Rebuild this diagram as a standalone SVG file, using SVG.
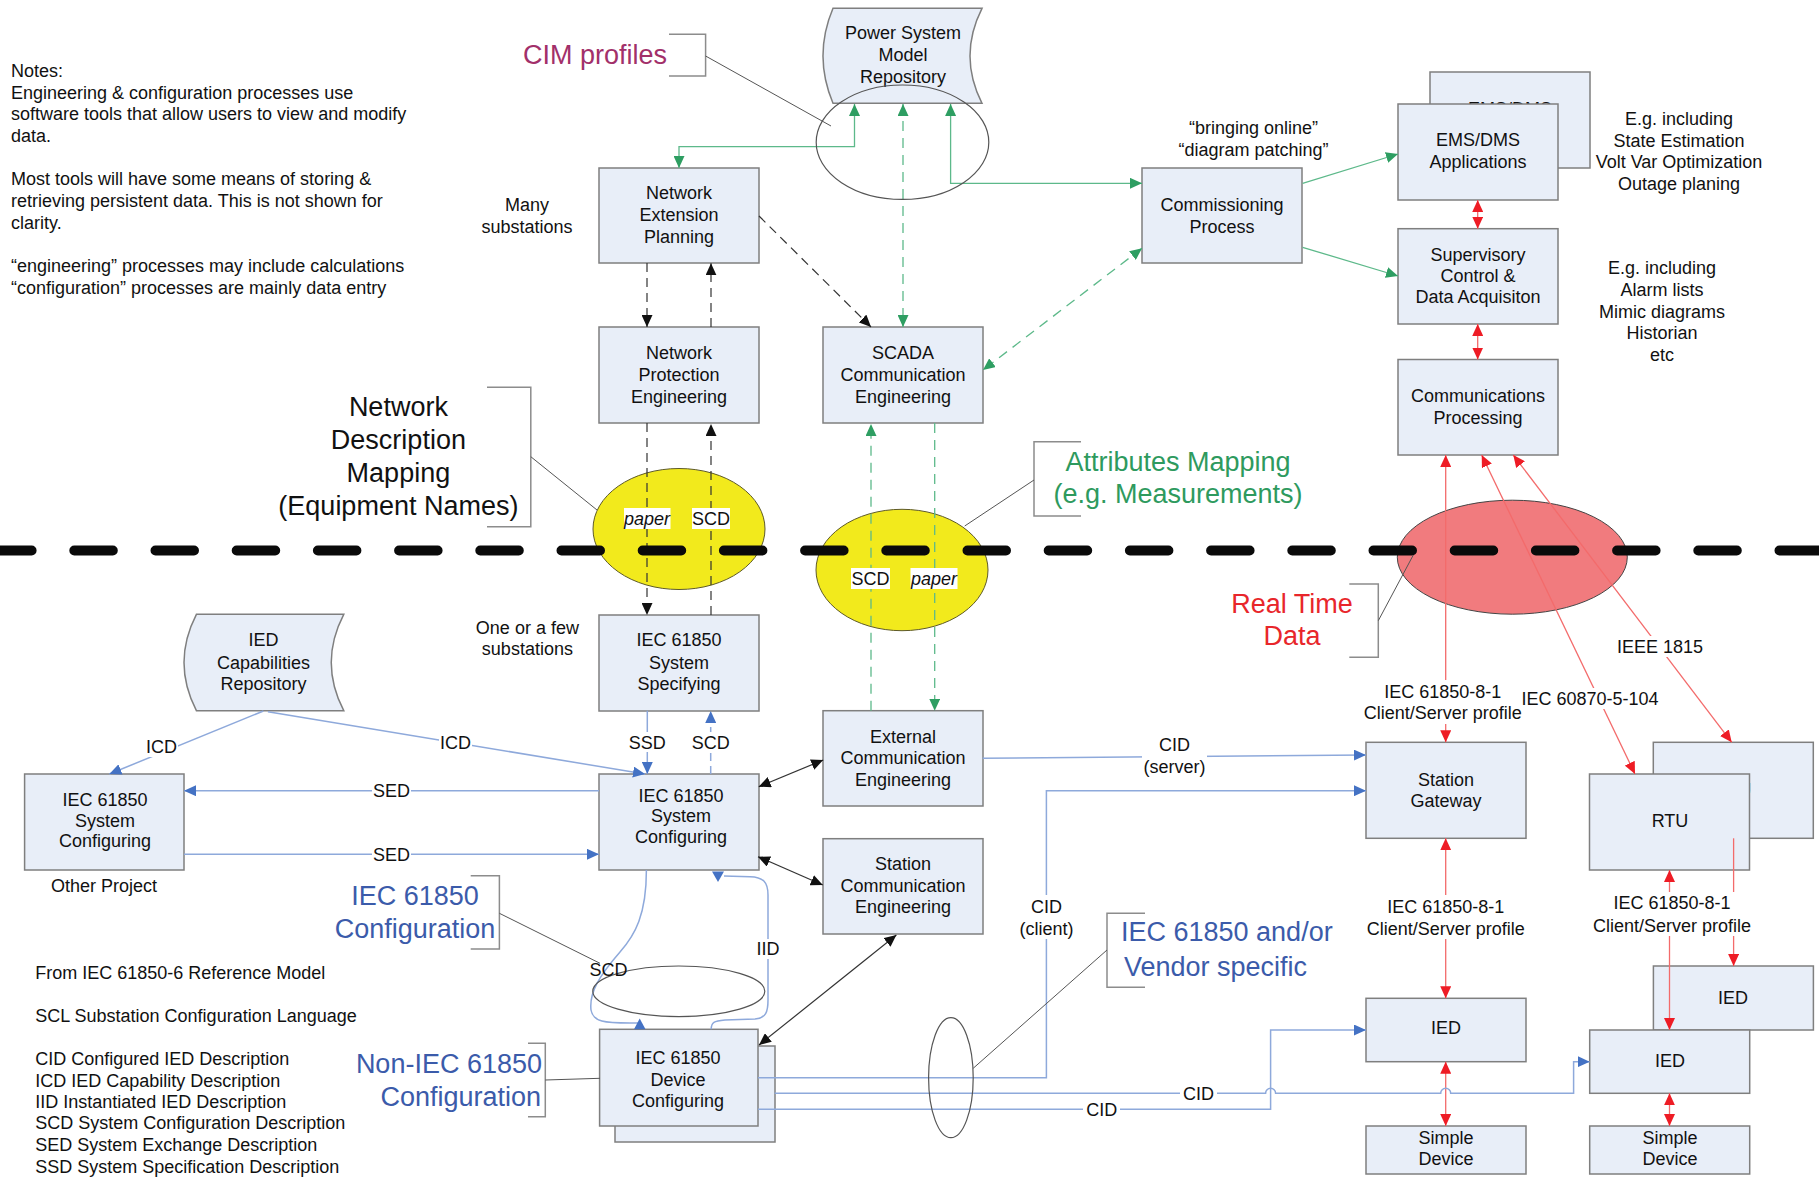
<svg xmlns="http://www.w3.org/2000/svg" width="1819" height="1182" viewBox="0 0 1819 1182">
<defs>
<style>
.t{font-family:"Liberation Sans",Arial,Helvetica,sans-serif;font-size:18px;fill:#111}
.m{text-anchor:middle}
.e{text-anchor:end}
.it{font-style:italic}
.big{font-size:27px}
.box{fill:#E8EEF8;stroke:#7F7F7F;stroke-width:1.5}
.bg{fill:#fff}
.k{fill:none;stroke:#333;stroke-width:1.2}
.kd{stroke-dasharray:9 6}
.g{fill:none;stroke:#5DB98A;stroke-width:1.3}
.gd{stroke-dasharray:10 7}
.r{fill:none;stroke:#F36B6B;stroke-width:1.3}
.b{fill:none;stroke:#8EA9DB;stroke-width:1.5}
.bd{stroke-dasharray:8 5}
.brk{fill:none;stroke:#8C8C8C;stroke-width:1.5}
.lead{fill:none;stroke:#555;stroke-width:1}
.ring{fill:none;stroke:#555;stroke-width:1.2}
</style>
<marker id="ak" viewBox="0 0 12 11" refX="12" refY="5.5" markerWidth="12" markerHeight="11" markerUnits="userSpaceOnUse" orient="auto-start-reverse"><path d="M0,0 L12,5.5 L0,11 Z" fill="#111"/></marker>
<marker id="ag" viewBox="0 0 12 11" refX="12" refY="5.5" markerWidth="12" markerHeight="11" markerUnits="userSpaceOnUse" orient="auto-start-reverse"><path d="M0,0 L12,5.5 L0,11 Z" fill="#2E9E62"/></marker>
<marker id="ar" viewBox="0 0 12 11" refX="12" refY="5.5" markerWidth="12" markerHeight="11" markerUnits="userSpaceOnUse" orient="auto-start-reverse"><path d="M0,0 L12,5.5 L0,11 Z" fill="#EE1C25"/></marker>
<marker id="ab" viewBox="0 0 12 11" refX="12" refY="5.5" markerWidth="12" markerHeight="11" markerUnits="userSpaceOnUse" orient="auto-start-reverse"><path d="M0,0 L12,5.5 L0,11 Z" fill="#4472C4"/></marker>
</defs>
<rect width="1819" height="1182" fill="#fff"/>

<!-- filled region ellipses -->
<g id="regions">
<ellipse id="yellow-1" cx="679" cy="529" rx="86" ry="60.5" fill="#F2EA1C" stroke="#5E5A28" stroke-width="1"/>
<ellipse id="yellow-2" cx="902" cy="570" rx="86" ry="60.7" fill="#F2EA1C" stroke="#5E5A28" stroke-width="1"/>
<ellipse id="realtime-ellipse" cx="1512.3" cy="557.2" rx="115" ry="57" fill="#F17B7E" stroke="#444" stroke-width="1"/>
</g>

<!-- nodes -->
<g id="power-system-model-repository">
<path class="box" d="M833,8.3 L982,8.3 Q958,55.8 982,103.3 L833,103.3 Q813,55.8 833,8.3 Z"/>
<text class="t m"><tspan x="903" y="39.3">Power System</tspan><tspan x="903" y="61">Model</tspan><tspan x="903" y="82.7">Repository</tspan></text>
</g>
<g id="network-extension-planning">
<rect class="box" x="599" y="168" width="160" height="95"/>
<text class="t m"><tspan x="679" y="199.3">Network</tspan><tspan x="679" y="221">Extension</tspan><tspan x="679" y="242.7">Planning</tspan></text>
</g>
<g id="network-protection-engineering">
<rect class="box" x="599" y="327" width="160" height="96"/>
<text class="t m"><tspan x="679" y="359.3">Network</tspan><tspan x="679" y="381">Protection</tspan><tspan x="679" y="402.7">Engineering</tspan></text>
</g>
<g id="scada-communication-engineering">
<rect class="box" x="823" y="327" width="160" height="96"/>
<text class="t m"><tspan x="903" y="359">SCADA</tspan><tspan x="903" y="381">Communication</tspan><tspan x="903" y="403">Engineering</tspan></text>
</g>
<g id="commissioning-process">
<rect class="box" x="1142" y="168" width="160" height="95"/>
<text class="t m"><tspan x="1222" y="211">Commissioning</tspan><tspan x="1222" y="232.7">Process</tspan></text>
</g>
<g id="ems-dms-applications">
<rect class="box" x="1430" y="72" width="160" height="96"/>
<text class="t m" x="1510" y="114.9">EMS/DMS</text>
<rect class="box" x="1398" y="104" width="160" height="96"/>
<text class="t m"><tspan x="1478" y="146">EMS/DMS</tspan><tspan x="1478" y="167.7">Applications</tspan></text>
</g>
<g id="supervisory-control">
<rect class="box" x="1398" y="228.7" width="160" height="95.3"/>
<text class="t m"><tspan x="1478" y="261">Supervisory</tspan><tspan x="1478" y="282">Control &amp;</tspan><tspan x="1478" y="303.3">Data Acquisiton</tspan></text>
</g>
<g id="communications-processing">
<rect class="box" x="1398" y="359.5" width="160" height="95.5"/>
<text class="t m"><tspan x="1478" y="402">Communications</tspan><tspan x="1478" y="423.7">Processing</tspan></text>
</g>
<g id="iec-system-specifying">
<rect class="box" x="599" y="615" width="160" height="96"/>
<text class="t m"><tspan x="679" y="646">IEC 61850</tspan><tspan x="679" y="668.7">System</tspan><tspan x="679" y="690">Specifying</tspan></text>
</g>
<g id="iec-system-configuring">
<rect class="box" x="599" y="774" width="160" height="96"/>
<text class="t m"><tspan x="681" y="802">IEC 61850</tspan><tspan x="681" y="822">System</tspan><tspan x="681" y="842.7">Configuring</tspan></text>
</g>
<g id="external-communication-engineering">
<rect class="box" x="823" y="710.7" width="160" height="95.3"/>
<text class="t m"><tspan x="903" y="742.7">External</tspan><tspan x="903" y="764.3">Communication</tspan><tspan x="903" y="786">Engineering</tspan></text>
</g>
<g id="station-communication-engineering">
<rect class="box" x="823" y="838.7" width="160" height="95.3"/>
<text class="t m"><tspan x="903" y="870.3">Station</tspan><tspan x="903" y="892">Communication</tspan><tspan x="903" y="913.3">Engineering</tspan></text>
</g>
<g id="iec-device-configuring">
<rect class="box" x="615" y="1046" width="160" height="96"/>
<rect class="box" x="599.6" y="1029.3" width="158.4" height="96.7"/>
<text class="t m"><tspan x="678" y="1064.3">IEC 61850</tspan><tspan x="678" y="1086">Device</tspan><tspan x="678" y="1106.7">Configuring</tspan></text>
</g>
<g id="other-system-configuring">
<rect class="box" x="24.6" y="774" width="159.4" height="96"/>
<text class="t m"><tspan x="105" y="806">IEC 61850</tspan><tspan x="105" y="826.7">System</tspan><tspan x="105" y="846.7">Configuring</tspan></text>
</g>
<g id="ied-capabilities-repository">
<path class="box" d="M196.4,614.3 L343.75,614.3 Q318.75,662.5 343.75,710.7 L196.4,710.7 Q171.6,662.5 196.4,614.3 Z"/>
<text class="t m"><tspan x="263.5" y="646">IED</tspan><tspan x="263.5" y="668.7">Capabilities</tspan><tspan x="263.5" y="690">Repository</tspan></text>
</g>
<g id="station-gateway">
<rect class="box" x="1366" y="742.3" width="160" height="96"/>
<text class="t m"><tspan x="1446" y="786">Station</tspan><tspan x="1446" y="807">Gateway</tspan></text>
</g>
<g id="rtu">
<rect class="box" x="1653.3" y="742.3" width="160" height="96"/>
<text class="t m" x="1733" y="796">RTU</text>
<rect class="box" x="1589.5" y="774" width="160" height="96"/>
<text class="t m" x="1670" y="827">RTU</text>
</g>
<g id="ied-1">
<rect class="box" x="1366" y="998.3" width="160" height="63.4"/>
<text class="t m" x="1446" y="1034.3">IED</text>
</g>
<g id="ied-2">
<rect class="box" x="1653.4" y="966" width="160" height="64"/>
<text class="t m" x="1733" y="1003.7">IED</text>
<rect class="box" x="1589.7" y="1030" width="160" height="63.3"/>
<text class="t m" x="1670" y="1067">IED</text>
</g>
<g id="simple-device-1">
<rect class="box" x="1366" y="1126" width="160" height="48"/>
<text class="t m"><tspan x="1446" y="1144.3">Simple</tspan><tspan x="1446" y="1165.3">Device</tspan></text>
</g>
<g id="simple-device-2">
<rect class="box" x="1589.7" y="1126" width="160" height="48"/>
<text class="t m"><tspan x="1670" y="1144.3">Simple</tspan><tspan x="1670" y="1165.3">Device</tspan></text>
</g>

<!-- connectors -->
<g id="connectors">
<path class="k kd" d="M647,263 V327" marker-end="url(#ak)"/>
<path class="k kd" d="M711,327 V263.3" marker-end="url(#ak)"/>
<path class="k kd" d="M759,216 L871,327" marker-end="url(#ak)"/>
<path class="k kd" d="M647,423 V615" marker-end="url(#ak)"/>
<path class="k kd" d="M711,615 V424" marker-end="url(#ak)"/>
<path class="k" d="M758.7,786.7 L823.2,760" marker-start="url(#ak)" marker-end="url(#ak)"/>
<path class="k" d="M758,856.7 L822.8,885" marker-start="url(#ak)" marker-end="url(#ak)"/>
<path class="k" d="M896.4,935 L759,1045" marker-start="url(#ak)" marker-end="url(#ak)"/>

<path class="g" d="M854.5,104 V146.6 H679 V168" marker-start="url(#ag)" marker-end="url(#ag)"/>
<path class="g gd" d="M903,104 V327" marker-start="url(#ag)" marker-end="url(#ag)"/>
<path class="g" d="M950.6,104 V183.3 H1142" marker-start="url(#ag)" marker-end="url(#ag)"/>
<path class="g gd" d="M1142,248.3 L983,370" marker-start="url(#ag)" marker-end="url(#ag)"/>
<path class="g" d="M1302.6,183.3 L1398,154" marker-end="url(#ag)"/>
<path class="g" d="M1302.6,247.3 L1398,276" marker-end="url(#ag)"/>
<path class="g gd" d="M871,710.7 V424" marker-end="url(#ag)"/>
<path class="g gd" d="M934.7,423 V710.7" marker-end="url(#ag)"/>

<path class="r" d="M1477.7,200 V228.7" marker-start="url(#ar)" marker-end="url(#ar)"/>
<path class="r" d="M1477.7,324 V359.5" marker-start="url(#ar)" marker-end="url(#ar)"/>
<path class="r" d="M1445.7,455 V742.3" marker-start="url(#ar)" marker-end="url(#ar)"/>
<path class="r" d="M1481.7,455 L1635,774" marker-start="url(#ar)" marker-end="url(#ar)"/>
<path class="r" d="M1513.3,455 L1731.7,742.3" marker-start="url(#ar)" marker-end="url(#ar)"/>
<path class="r" d="M1445.7,838.3 V998.3" marker-start="url(#ar)" marker-end="url(#ar)"/>
<path class="r" d="M1445.7,1061.7 V1126" marker-start="url(#ar)" marker-end="url(#ar)"/>
<path class="r" d="M1669.5,870 V1030" marker-start="url(#ar)" marker-end="url(#ar)"/>
<path class="r" d="M1733.6,838.3 V966" marker-end="url(#ar)"/>
<path class="r" d="M1669.5,1093.3 V1126" marker-start="url(#ar)" marker-end="url(#ar)"/>

<path class="b" d="M263.4,711 L109.4,774" marker-end="url(#ab)"/>
<path class="b" d="M267.9,711.7 L645,774" marker-end="url(#ab)"/>
<path class="b" d="M599,790.7 H184" marker-end="url(#ab)"/>
<path class="b" d="M184,854.3 H599" marker-end="url(#ab)"/>
<path class="b" d="M647.3,710.7 V774" marker-end="url(#ab)"/>
<path class="b bd" d="M710.7,774 V711" marker-end="url(#ab)"/>
<path class="b" d="M646.4,870 C646.4,915 635,935 620,952 C600,975 589,992 591,1010 C593,1022 605,1023 630,1023 L638,1023"/>
<path d="M634,1029.3 L645.5,1029.3 L639.7,1018.5 Z" fill="#4472C4"/>
<path class="b" d="M711.2,1029.3 C711.2,1022 714,1021 725,1020 L755,1019 C766,1018 768,1012 768,1000 L768,895 C768,882 763,877 750,876.7 L724,876"/>
<path d="M712,871.5 L724,871.5 L718,882 Z" fill="#4472C4"/>
<path class="b" d="M982.7,758.3 L1366,755" marker-end="url(#ab)"/>
<path class="b" d="M758,1077.7 H1046.4 V790.7 H1366" marker-end="url(#ab)"/>
<path class="b" d="M774.6,1093.3 H1265.6 A5,5 0 0 1 1275.6,1093.3 H1440.7 A5,5 0 0 1 1450.7,1093.3 H1573.6 V1061.7 H1589.7" marker-end="url(#ab)"/>
<path class="b" d="M758,1109.3 H1270.6 V1030 H1366" marker-end="url(#ab)"/>
</g>

<!-- outline groupings -->
<g id="groupings">
<ellipse class="ring" cx="902.5" cy="142.2" rx="86.3" ry="57.2"/>
<ellipse class="ring" cx="678.8" cy="991.3" rx="86" ry="25.3"/>
<ellipse class="ring" cx="950.9" cy="1077.7" rx="22.3" ry="60"/>
</g>

<!-- boundary -->
<path id="boundary" d="M-6.9,550.5 H1830" fill="none" stroke="#0A0A0A" stroke-width="10" stroke-linecap="round" stroke-dasharray="38.5 42.7"/>

<!-- connector labels -->
<g id="connector-labels">
<rect class="bg" x="624" y="508" width="46.5" height="21"/><text class="t m it" x="647" y="525">paper</text>
<rect class="bg" x="692" y="508" width="38" height="21"/><text class="t m" x="711" y="525">SCD</text>
<rect class="bg" x="851" y="568" width="39" height="21"/><text class="t m" x="870.5" y="585">SCD</text>
<rect class="bg" x="910.5" y="568" width="47" height="21"/><text class="t m it" x="934" y="585">paper</text>

<rect class="bg" x="145" y="737" width="33" height="20"/><text class="t m" x="161.6" y="753">ICD</text>
<rect class="bg" x="439" y="732" width="33" height="20"/><text class="t m" x="455.4" y="748.5">ICD</text>
<rect class="bg" x="372" y="781" width="39" height="20"/><text class="t m" x="391.5" y="797">SED</text>
<rect class="bg" x="372" y="844" width="39" height="20"/><text class="t m" x="391.5" y="860.5">SED</text>
<rect class="bg" x="628" y="732" width="39" height="20"/><text class="t m" x="647.3" y="748.5">SSD</text>
<rect class="bg" x="691" y="732" width="39" height="20"/><text class="t m" x="710.7" y="748.5">SCD</text>
<text class="t m" x="608.5" y="975.5">SCD</text>
<rect class="bg" x="756" y="939" width="24" height="20"/><text class="t m" x="767.9" y="955">IID</text>
<rect class="bg" x="1018" y="895" width="57" height="44"/><text class="t m"><tspan x="1046.4" y="912.7">CID</tspan><tspan x="1046.4" y="935">(client)</tspan></text>
<rect class="bg" x="1142" y="734" width="65" height="44"/><text class="t m"><tspan x="1174.6" y="751">CID</tspan><tspan x="1174.6" y="772.7">(server)</tspan></text>
<rect class="bg" x="1180" y="1083" width="37" height="20"/><text class="t m" x="1198.6" y="1099.5">CID</text>
<rect class="bg" x="1083" y="1099" width="37" height="20"/><text class="t m" x="1101.8" y="1115.5">CID</text>
<rect class="bg" x="1362" y="680" width="162" height="44"/><text class="t m"><tspan x="1442.7" y="697.7">IEC 61850-8-1</tspan><tspan x="1442.7" y="719.3">Client/Server profile</tspan></text>
<rect class="bg" x="1522" y="688" width="137" height="21"/><text class="t m" x="1590" y="704.5">IEC 60870-5-104</text>
<rect class="bg" x="1617" y="636" width="86" height="21"/><text class="t m" x="1660" y="652.7">IEEE 1815</text>
<rect class="bg" x="1366" y="895" width="160" height="44"/><text class="t m"><tspan x="1445.7" y="912.7">IEC 61850-8-1</tspan><tspan x="1445.7" y="935">Client/Server profile</tspan></text>
<rect class="bg" x="1592" y="892" width="160" height="44"/><text class="t m"><tspan x="1672" y="909.3">IEC 61850-8-1</tspan><tspan x="1672" y="931.7">Client/Server profile</tspan></text>
</g>

<!-- annotations -->
<g id="annotations">
<path class="brk" d="M669,34.3 H705.6 V76 H669"/>
<path class="lead" d="M705.6,56 L831,126"/>
<text class="t big" x="523" y="64" style="fill:#A2306A">CIM profiles</text>

<path class="brk" d="M487,387.3 H530.8 V526.7 H487"/>
<path class="lead" d="M530.8,456.7 L597,510"/>
<text class="t big m"><tspan x="398.4" y="416">Network</tspan><tspan x="398.4" y="449">Description</tspan><tspan x="398.4" y="482">Mapping</tspan><tspan x="398.4" y="515">(Equipment Names)</tspan></text>

<path class="brk" d="M1081,441.7 H1034 V516 H1081"/>
<path class="lead" d="M1034,480 L964.7,526"/>
<text class="t big m" style="fill:#2E9A5E"><tspan x="1178" y="471">Attributes Mapping</tspan><tspan x="1178" y="503">(e.g. Measurements)</tspan></text>

<path class="brk" d="M1349.3,584 H1378.3 V657.3 H1349.3"/>
<path class="lead" d="M1378.3,620.7 L1413.3,555"/>
<text class="t big m" style="fill:#E8262B"><tspan x="1292" y="613">Real Time</tspan><tspan x="1292" y="645">Data</tspan></text>

<path class="brk" d="M470.7,875.7 H499.4 V949 H470.7"/>
<path class="lead" d="M499.4,913.3 L600,963.3"/>
<text class="t big m" style="fill:#3B5BAA"><tspan x="415" y="905">IEC 61850</tspan><tspan x="415" y="938">Configuration</tspan></text>

<path class="brk" d="M528,1043.3 H545.3 V1116.7 H528"/>
<path class="lead" d="M545.3,1080 L600,1078.3"/>
<text class="t big e" style="fill:#3B5BAA"><tspan x="542" y="1073">Non-IEC 61850</tspan><tspan x="541" y="1106">Configuration</tspan></text>

<path class="brk" d="M1145,913.3 H1107 V987.3 H1145"/>
<path class="lead" d="M1107,950 L973.2,1068.3"/>
<text class="t big" style="fill:#3B5BAA"><tspan x="1121" y="941">IEC 61850 and/or</tspan><tspan x="1124" y="976">Vendor specific</tspan></text>

<text class="t"><tspan x="11" y="77">Notes:</tspan><tspan x="11" y="98.7">Engineering &amp; configuration processes use</tspan><tspan x="11" y="120.3">software tools that allow users to view and modify</tspan><tspan x="11" y="142">data.</tspan><tspan x="11" y="185.3">Most tools will have some means of storing &amp;</tspan><tspan x="11" y="207">retrieving persistent data. This is not shown for</tspan><tspan x="11" y="228.7">clarity.</tspan><tspan x="11" y="272">“engineering” processes may include calculations</tspan><tspan x="11" y="293.7">“configuration” processes are mainly data entry</tspan></text>

<text class="t m"><tspan x="527" y="211">Many</tspan><tspan x="527" y="232.7">substations</tspan></text>
<text class="t m"><tspan x="1253.5" y="134.3">“bringing online”</tspan><tspan x="1253.5" y="156">“diagram patching”</tspan></text>
<text class="t m"><tspan x="1679" y="125">E.g. including</tspan><tspan x="1679" y="146.7">State Estimation</tspan><tspan x="1679" y="168.3">Volt Var Optimization</tspan><tspan x="1679" y="190">Outage planing</tspan></text>
<text class="t m"><tspan x="1662" y="274.3">E.g. including</tspan><tspan x="1662" y="296">Alarm lists</tspan><tspan x="1662" y="317.7">Mimic diagrams</tspan><tspan x="1662" y="339.3">Historian</tspan><tspan x="1662" y="361">etc</tspan></text>
<text class="t m"><tspan x="527.4" y="633.7">One or a few</tspan><tspan x="527.4" y="655">substations</tspan></text>
<text class="t m" x="104" y="891.7">Other Project</text>
<text class="t"><tspan x="35.2" y="978.7">From IEC 61850-6 Reference Model</tspan><tspan x="35.2" y="1021.7">SCL Substation Configuration Language</tspan><tspan x="35.2" y="1065.3">CID Configured IED Description</tspan><tspan x="35.2" y="1086.7">ICD IED Capability Description</tspan><tspan x="35.2" y="1108.3">IID Instantiated IED Description</tspan><tspan x="35.2" y="1129.3">SCD System Configuration Description</tspan><tspan x="35.2" y="1151">SED System Exchange Description</tspan><tspan x="35.2" y="1172.7">SSD System Specification Description</tspan></text>
</g>
</svg>
